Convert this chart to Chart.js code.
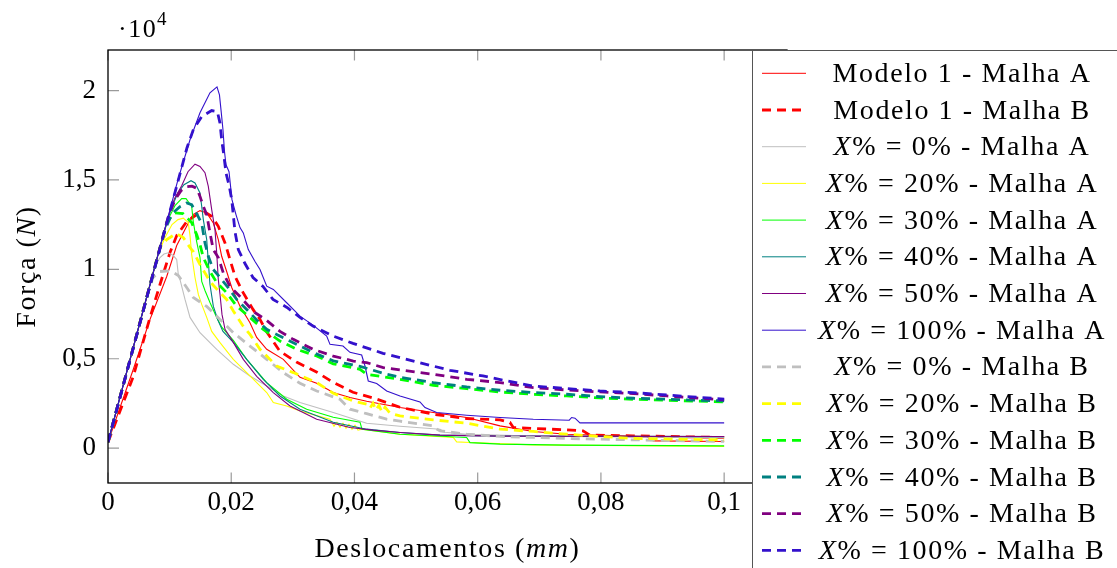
<!DOCTYPE html>
<html>
<head>
<meta charset="utf-8">
<script src="https://cdn.jsdelivr.net/npm/chart.js@4.4.0/dist/chart.umd.min.js"></script>
<style>
  html, body { margin: 0; padding: 0; background: #fff; }
</style>
</head>
<body>
<canvas id="forca" width="1117" height="568"></canvas>
<script>
// Força x deslocamento, pares [deslocamento (mm), força (N)]
const modelo1A = [[0,335],[0.00411,4410],[0.00682,7201],[0.00953,9601],[0.01115,11331],[0.01277,12409],[0.01379,13062],[0.01493,13285],[0.01602,13157],[0.01709,12599],[0.0179,11666],[0.01845,10734],[0.01926,9880],[0.02008,8987],[0.02142,7943],[0.02304,7017],[0.02413,6196],[0.02576,5526],[0.02845,4968],[0.03116,3963],[0.03387,3628],[0.03656,3109],[0.03927,2830],[0.04198,2624],[0.04739,2272],[0.05279,1993],[0.05821,1714],[0.06362,1245],[0.06902,932],[0.07444,781],[0.08742,653],[0.0885,407],[0.1,374]];
const modelo1B = [[0,335],[0.00406,3964],[0.00682,7312],[0.00844,9154],[0.01006,10941],[0.01115,11890],[0.01277,12671],[0.01439,13062],[0.01602,13146],[0.01683,12967],[0.0179,12409],[0.01899,11482],[0.0198,10550],[0.02061,9618],[0.02191,8708],[0.02353,7759],[0.02467,7201],[0.0258,6475],[0.02791,5415],[0.03067,4801],[0.03392,4242],[0.03652,3684],[0.03976,3126],[0.04366,2735],[0.04739,2289],[0.05274,1898],[0.05826,1658],[0.06362,1580],[0.06524,1435],[0.06578,1155],[0.06897,1100],[0.07449,1022],[0.07709,966],[0.07822,726],[0.0852,687],[0.1,597]];
const x0A = [[0,335],[0.00763,10159],[0.00844,10662],[0.00909,10857],[0.00979,10924],[0.0106,10773],[0.01115,10550],[0.01141,9713],[0.01168,9434],[0.0125,8317],[0.01331,7312],[0.01493,6458],[0.01764,5526],[0.02034,4689],[0.02304,4036],[0.02576,3478],[0.02845,2919],[0.03116,2551],[0.03656,1993],[0.04198,1396],[0.04739,1228],[0.05388,1061],[0.05469,893],[0.05821,781],[0.06902,670],[0.1,586]];
const x20A = [[0,335],[0.00811,10829],[0.00925,11778],[0.01039,12504],[0.01136,12783],[0.01222,12866],[0.01303,12615],[0.01331,11890],[0.01358,10829],[0.01412,9545],[0.01466,8596],[0.01521,8038],[0.01602,7312],[0.01683,6531],[0.01818,5900],[0.02034,4968],[0.02304,4036],[0.02576,3109],[0.02683,2551],[0.029,2361],[0.03116,2082],[0.03603,1619],[0.03668,1228],[0.03716,1451],[0.03765,1172],[0.03814,1396],[0.03863,1116],[0.03911,1340],[0.0396,1061],[0.04009,1284],[0.04057,1005],[0.04122,1061],[0.04739,781],[0.05604,597],[0.05659,352],[0.05875,318],[0.06902,184],[0.1,95]];
const x30A = [[0,335],[0.00876,11666],[0.00974,12783],[0.01087,13564],[0.01196,13955],[0.01266,13955],[0.01358,13525],[0.01384,12671],[0.01439,11555],[0.01493,10662],[0.01521,9322],[0.01574,8820],[0.01655,8150],[0.01764,7312],[0.0185,6754],[0.02034,6029],[0.02251,4968],[0.02576,3667],[0.029,2735],[0.03225,2177],[0.03656,1730],[0.0409,1451],[0.04122,1061],[0.04739,781],[0.05821,597],[0.05875,307],[0.06362,223],[0.07444,167],[0.1,128]];
const x40A = [[0,335],[0.00925,12280],[0.01039,13508],[0.01136,14290],[0.01233,14736],[0.01347,14960],[0.01412,14831],[0.01493,14273],[0.01521,13525],[0.01547,12783],[0.01602,11666],[0.01628,10438],[0.01655,9154],[0.01709,7943],[0.01785,7145],[0.01866,6531],[0.02034,5917],[0.02251,4968],[0.0252,3852],[0.02791,2919],[0.03116,2177],[0.03656,1451],[0.04198,1061],[0.04739,876],[0.05388,726],[0.06362,670],[0.1,642]];
const x50A = [[0,335],[0.00925,12280],[0.01006,13285],[0.01087,14011],[0.01196,14681],[0.01298,15462],[0.01412,15881],[0.01493,15758],[0.01574,15406],[0.01628,14642],[0.01683,13341],[0.01736,12225],[0.01764,10941],[0.0179,9434],[0.01818,8596],[0.0185,7480],[0.01899,6643],[0.02034,5917],[0.02196,4968],[0.02413,4019],[0.02683,3109],[0.02954,2361],[0.03387,1619],[0.03927,1155],[0.04305,1005],[0.04739,876],[0.05388,726],[0.06362,670],[0.1,653]];
const x100A = [[0,335],[0.01136,15016],[0.01331,17248],[0.01493,18756],[0.01655,19872],[0.01769,20207],[0.01809,19760],[0.01834,18923],[0.01866,17807],[0.01891,16579],[0.01915,15853],[0.01964,15462],[0.02012,13899],[0.02077,13062],[0.02142,12336],[0.02196,12040],[0.02277,11108],[0.02386,10438],[0.02467,9992],[0.02576,9060],[0.02683,8875],[0.029,8133],[0.03116,7385],[0.03332,6866],[0.03549,6269],[0.03603,5805],[0.03814,5710],[0.03927,5359],[0.04117,5208],[0.04171,4594],[0.04224,3757],[0.04361,3612],[0.04523,3198],[0.04739,2919],[0.05063,2584],[0.05145,2272],[0.05334,1993],[0.05821,1842],[0.06362,1714],[0.06902,1619],[0.07486,1563],[0.07525,1714],[0.07579,1675],[0.0766,1412],[0.1,1412]];
const x0B = [[0,335],[0.00649,8708],[0.0073,9545],[0.00844,9880],[0.00953,9908],[0.0106,9824],[0.01141,9657],[0.01277,8987],[0.01384,8429],[0.01602,7926],[0.01818,7201],[0.02034,6458],[0.02304,5710],[0.02576,4968],[0.02845,4226],[0.03116,3628],[0.03387,3198],[0.03765,2735],[0.03846,2456],[0.03927,2177],[0.04198,1926],[0.04523,1619],[0.04739,1507],[0.05279,1245],[0.05339,1061],[0.05388,966],[0.05821,781],[0.06362,653],[0.06902,597],[0.07444,541],[0.07984,502],[0.08526,463],[0.1,374]];
const x20B = [[0,335],[0.00844,11220],[0.00953,11666],[0.01104,12001],[0.01222,11778],[0.01331,11220],[0.01384,10997],[0.01493,10271],[0.01655,9322],[0.01818,8691],[0.01926,8317],[0.02034,7675],[0.02196,6810],[0.02304,6363],[0.02467,5526],[0.02738,4594],[0.03007,4226],[0.03387,3667],[0.03656,3070],[0.03981,2640],[0.04198,2456],[0.04252,2233],[0.04301,2512],[0.0435,2121],[0.04398,2400],[0.04447,2010],[0.04496,2289],[0.04577,1954],[0.04739,1803],[0.05279,1580],[0.05821,1396],[0.06362,1061],[0.06902,932],[0.07444,781],[0.07984,653],[0.08526,541],[0.1,463]];
const x30B = [[0,335],[0.00957,12671],[0.01087,13157],[0.01217,13118],[0.01358,12615],[0.01439,11945],[0.01493,11387],[0.01547,10662],[0.01655,9880],[0.01764,9266],[0.01926,8691],[0.02089,7943],[0.02304,7312],[0.0252,6643],[0.02791,5990],[0.03062,5526],[0.03387,5152],[0.03656,4717],[0.0409,4410],[0.04198,4131],[0.04739,3852],[0.05279,3517],[0.05821,3332],[0.06362,3143],[0.06902,3014],[0.07444,2919],[0.07984,2808],[0.08526,2735],[0.09067,2679],[0.1,2584]];
const x40B = [[0,335],[0.00925,12225],[0.01039,13118],[0.01168,13508],[0.01277,13715],[0.01358,13620],[0.01439,13118],[0.01521,12559],[0.01547,12040],[0.01574,11482],[0.01628,10734],[0.01709,9992],[0.01818,9545],[0.01953,8970],[0.02089,8317],[0.02251,7759],[0.02413,7173],[0.02576,6643],[0.02738,6363],[0.03007,5900],[0.03332,5342],[0.03656,4884],[0.0409,4577],[0.04523,4131],[0.04739,3963],[0.05279,3667],[0.05821,3422],[0.06362,3238],[0.06902,3109],[0.07444,3014],[0.07984,2886],[0.08526,2791],[0.09067,2735],[0.09607,2679],[0.1,2640]];
const x50B = [[0,335],[0.00974,12894],[0.01087,13899],[0.01185,14402],[0.01282,14625],[0.01363,14653],[0.01444,14530],[0.01493,14083],[0.01547,13525],[0.01602,13062],[0.01655,12040],[0.01709,11108],[0.0179,10662],[0.01871,9808],[0.0198,9043],[0.02142,8485],[0.02358,7647],[0.02576,7145],[0.02791,6531],[0.03007,6084],[0.03332,5526],[0.03656,5152],[0.03981,4873],[0.04198,4784],[0.04468,4505],[0.04739,4382],[0.05279,4131],[0.05821,3852],[0.06362,3667],[0.06902,3388],[0.07444,3254],[0.07984,3143],[0.08526,3053],[0.09067,2919],[0.09607,2791],[0.1,2696]];
const x100B = [[0,335],[0.01282,16802],[0.01384,17807],[0.01521,18549],[0.01683,18884],[0.01774,18828],[0.01818,18181],[0.01845,17248],[0.01883,16316],[0.01915,15390],[0.01969,14642],[0.02008,13899],[0.02061,12113],[0.02115,11108],[0.02223,10327],[0.02353,9545],[0.02515,9043],[0.02678,8317],[0.02905,7871],[0.03116,7312],[0.03327,6827],[0.03652,6269],[0.03976,5861],[0.04463,5303],[0.05015,4817],[0.0555,4354],[0.06086,4036],[0.06475,3757],[0.06897,3478],[0.07449,3332],[0.07984,3198],[0.0852,3109],[0.09072,2975],[0.09396,2886],[0.09818,2791],[0.1,2735]];

const seriesLabels = [
  'Modelo 1 - Malha A', 'Modelo 1 - Malha B',
  'X% = 0% - Malha A', 'X% = 20% - Malha A', 'X% = 30% - Malha A',
  'X% = 40% - Malha A', 'X% = 50% - Malha A', 'X% = 100% - Malha A',
  'X% = 0% - Malha B', 'X% = 20% - Malha B', 'X% = 30% - Malha B',
  'X% = 40% - Malha B', 'X% = 50% - Malha B', 'X% = 100% - Malha B'
];
const seriesData = [modelo1A, modelo1B, x0A, x20A, x30A, x40A, x50A, x100A,
                    x0B, x20B, x30B, x40B, x50B, x100B];
const seriesColors = ['#ff0000', '#ff0000', '#bfbfbf', '#ffff00', '#00ff00', '#008080', '#800080', '#3311cc',
                      '#bfbfbf', '#ffff00', '#00ff00', '#008080', '#800080', '#3311cc'];
const seriesDashed = [false, true, false, false, false, false, false, false,
                      true, true, true, true, true, true];

const xTicks = [0, 0.02, 0.04, 0.06, 0.08, 0.1];
const yTicks = [0, 5000, 10000, 15000, 20000];

const serif = '"Liberation Serif", "Times New Roman", serif';
const fontSize = 27;
const legendSize = 28;

function virgula(v) {
  return String(v).replace('.', ',');
}

// draws a run of text pieces [texto, italico] starting at x
function drawParts(ctx, parts, x, y, size) {
  parts.forEach(p => {
    ctx.font = (p[1] ? 'italic ' : '') + size + 'px ' + serif;
    ctx.fillText(p[0], x, y);
    x += ctx.measureText(p[0]).width;
  });
}

function partsWidth(ctx, parts, size) {
  let w = 0;
  parts.forEach(p => {
    ctx.font = (p[1] ? 'italic ' : '') + size + 'px ' + serif;
    w += ctx.measureText(p[0]).width;
  });
  return w;
}

function labelParts(label) {
  if (label.startsWith('X')) return [['X', true], [label.slice(1), false]];
  return [[label, false]];
}

// frame, inward ticks, axis titles and the legend box
const moldura = {
  id: 'moldura',
  afterDatasetsDraw(chart) {
    const ctx = chart.ctx;
    const a = chart.chartArea;
    const sx = chart.scales.x, sy = chart.scales.y;
    ctx.save();
    ctx.strokeStyle = '#9a9a9a';
    ctx.lineWidth = 1.2;
    ctx.beginPath();
    xTicks.forEach(v => {
      const px = sx.getPixelForValue(v);
      ctx.moveTo(px, a.bottom); ctx.lineTo(px, a.bottom - 10.5);
      ctx.moveTo(px, a.top); ctx.lineTo(px, a.top + 10.5);
    });
    yTicks.forEach(v => {
      const py = sy.getPixelForValue(v);
      ctx.moveTo(a.left, py); ctx.lineTo(a.left + 11, py);
      ctx.moveTo(a.right, py); ctx.lineTo(a.right - 11, py);
    });
    ctx.stroke();
    ctx.strokeStyle = '#000';
    ctx.lineWidth = 1.3;
    ctx.strokeRect(a.left, a.top, a.right - a.left, a.bottom - a.top);

    // multiplicador do eixo y
    ctx.fillStyle = '#000';
    ctx.textBaseline = 'alphabetic';
    ctx.textAlign = 'left';
    ctx.letterSpacing = '1.5px';
    ctx.font = '26px ' + serif;
    ctx.fillText('\u00b710', 118, 37);
    ctx.font = '19px ' + serif;
    ctx.fillText('4', 157, 25);

    // titulos dos eixos
    ctx.letterSpacing = '1.6px';
    const xt = [['Deslocamentos (', false], ['mm', true], [')', false]];
    const wx = partsWidth(ctx, xt, legendSize);
    drawParts(ctx, xt, (a.left + a.right) / 2 - wx / 2, 557, legendSize);

    const yt = [['For\u00e7a (', false], ['N', true], [')', false]];
    const wy = partsWidth(ctx, yt, legendSize);
    ctx.save();
    ctx.translate(35, (a.top + a.bottom) / 2);
    ctx.rotate(-Math.PI / 2);
    drawParts(ctx, yt, -wy / 2, 0, legendSize);
    ctx.restore();

    // legenda
    const lx = 752.5, ly = 50.5;
    ctx.fillStyle = '#fff';
    ctx.fillRect(lx, ly, 500, 600);
    ctx.strokeStyle = '#555';
    ctx.lineWidth = 1;
    ctx.strokeRect(lx, ly, 500, 600);
    seriesLabels.forEach((label, i) => {
      const ry = 73.3 + 36.7 * i;
      ctx.strokeStyle = seriesColors[i];
      ctx.lineWidth = seriesDashed[i] ? 2.8 : 1;
      ctx.setLineDash(seriesDashed[i] ? [9, 6] : []);
      ctx.beginPath();
      ctx.moveTo(762, ry); ctx.lineTo(806, ry);
      ctx.stroke();
      ctx.setLineDash([]);
      ctx.fillStyle = '#000';
      const parts = labelParts(label);
      const w = partsWidth(ctx, parts, legendSize);
      drawParts(ctx, parts, 962 - w / 2, ry + 8.5, legendSize);
    });
    ctx.restore();
  }
};

const datasets = seriesData.map((d, i) => ({
  label: seriesLabels[i],
  data: d,
  borderColor: seriesColors[i],
  backgroundColor: seriesColors[i],
  borderWidth: seriesDashed[i] ? 2.8 : 1.1,
  borderDash: seriesDashed[i] ? [9, 6] : [],
  pointRadius: 0,
  tension: 0,
  fill: false,
  order: -i
}));

new Chart(document.getElementById('forca').getContext('2d'), {
  type: 'line',
  data: { datasets: datasets },
  options: {
    responsive: false,
    animation: false,
    devicePixelRatio: 1,
    layout: { padding: { left: 0, top: 50, right: 330, bottom: 0 } },
    plugins: { legend: { display: false }, tooltip: { enabled: false } },
    scales: {
      x: {
        type: 'linear',
        min: 0,
        max: 0.1102,
        afterBuildTicks: s => { s.ticks = xTicks.map(v => ({ value: v })); },
        afterFit: s => { s.height = 85; },
        grid: { display: false, drawTicks: false },
        border: { display: false },
        ticks: {
          color: '#000',
          padding: 6,
          maxRotation: 0,
          autoSkip: false,
          font: { family: serif, size: fontSize, lineHeight: 1 },
          callback: v => virgula(v)
        }
      },
      y: {
        type: 'linear',
        min: -1950,
        max: 22270,
        afterBuildTicks: s => { s.ticks = yTicks.map(v => ({ value: v })); },
        afterFit: s => { s.width = 108; },
        grid: { display: false, drawTicks: false },
        border: { display: false },
        ticks: {
          color: '#000',
          padding: 12,
          font: { family: serif, size: fontSize, lineHeight: 1 },
          callback: v => virgula(v / 10000)
        }
      }
    }
  },
  plugins: [moldura]
});
</script>
</body>
</html>
